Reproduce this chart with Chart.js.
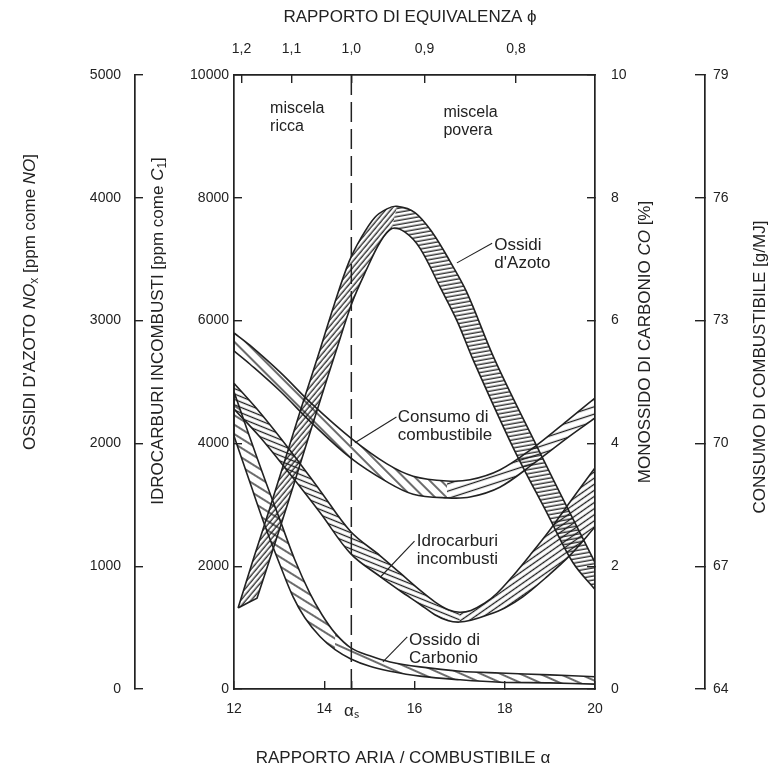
<!DOCTYPE html>
<html>
<head>
<meta charset="utf-8">
<script src="https://cdn.jsdelivr.net/npm/chart.js@4.4.1/dist/chart.umd.min.js"></script>
<style>
  html, body { margin: 0; padding: 0; background: #fff; }
  canvas { display: block; }
</style>
</head>
<body>
<canvas id="chart" width="770" height="774"></canvas>
<script>
// rapporto aria / combustibile (asse x) e rapporto di equivalenza (asse in alto)
const alphaS = 14.6;
const xTicks = [12, 14, 14.6, 16, 18, 20];
const phiTicks = [1.2, 1.1, 1.0, 0.9, 0.8];
const phiLabels = ['1,2', '1,1', '1,0', '0,9', '0,8'];

// ossidi d'azoto [ppm come NO]: bordo superiore e inferiore della fascia
const noxUpAlpha = [12.09, 12.44, 12.8, 13.15, 13.5, 13.86, 14.22, 14.55, 14.81, 15.12, 15.39, 15.61, 16.01, 16.41, 16.79, 17.16, 17.78, 18.72, 19.45, 20];
const noxUp = [660, 1070, 1480, 1890, 2300, 2710, 3130, 3480, 3670, 3840, 3910, 3930, 3880, 3710, 3480, 3230, 2680, 1970, 1430, 1030];
const noxLowAlpha = [12.51, 12.84, 13.2, 13.55, 13.91, 14.26, 14.61, 14.93, 15.24, 15.5, 15.79, 16.12, 16.57, 16.94, 17.3, 18.18, 18.94, 19.51, 20];
const noxLow = [740, 1110, 1520, 1930, 2350, 2750, 3140, 3410, 3640, 3750, 3720, 3590, 3270, 3000, 2680, 1970, 1430, 1030, 810];

// consumo di combustibile [g/MJ]
const consAlpha = [12, 12.35, 13.02, 13.75, 14.59, 15.39, 15.97, 16.72, 17.23, 17.89, 18.63, 19.38, 20];
const consUp = [72.70, 72.40, 71.74, 70.94, 70.13, 69.50, 69.20, 69.08, 69.11, 69.35, 69.89, 70.55, 71.11];
const consLow = [72.26, 71.94, 71.28, 70.47, 69.64, 69.06, 68.76, 68.67, 68.69, 68.93, 69.50, 70.13, 70.62];

// idrocarburi incombusti [ppm come C1]
const hcUpAlpha = [12, 12.58, 13.24, 13.91, 14.59, 15.24, 15.68, 16.12, 16.45, 16.75, 17.0, 17.25, 17.56, 17.83, 18.12, 18.56, 19.0, 19.45, 20];
const hcUp = [4980, 4500, 3890, 3230, 2560, 2170, 1890, 1610, 1420, 1290, 1250, 1280, 1400, 1560, 1790, 2180, 2590, 3050, 3600];
const hcLowAlpha = [12, 12.58, 13.24, 13.91, 14.59, 15.24, 15.68, 16.12, 16.45, 16.75, 17.0, 17.25, 17.6, 18.0, 18.4, 18.89, 19.45, 20];
const hcLow = [4560, 4100, 3500, 2870, 2200, 1830, 1600, 1380, 1210, 1110, 1090, 1120, 1200, 1320, 1500, 1800, 2180, 2640];

// ossido di carbonio CO [%]
const coUpAlpha = [12, 12.35, 12.69, 13.02, 13.35, 13.68, 13.95, 14.24, 14.59, 15.01, 15.46, 16.12, 17.01, 17.89, 19.0, 20];
const coUp = [4.84, 4.10, 3.40, 2.75, 2.10, 1.56, 1.21, 0.91, 0.67, 0.54, 0.44, 0.36, 0.29, 0.26, 0.23, 0.20];
const coLowAlpha = [12, 12.35, 12.69, 13.02, 13.31, 13.57, 13.91, 14.24, 14.59, 15.01, 15.46, 16.12, 17.01, 17.89, 19.0, 20];
const coLow = [4.12, 3.37, 2.65, 2.02, 1.50, 1.16, 0.85, 0.64, 0.49, 0.37, 0.29, 0.21, 0.15, 0.11, 0.10, 0.08];

const FONT = "'Liberation Sans', Arial, sans-serif";
const INK = '#222';
const tickFont = { family: FONT, size: 14, lineHeight: 1.2 };

function edge(a, v) {
  return a.map((x, i) => ({ x, y: v[i] }));
}

// fascia chiusa: bordo superiore in avanti, bordo inferiore all'indietro
// (punti d'angolo doppi per tenere gli spigoli vivi con la tensione)
function polygon(up, low) {
  const lowR = low.slice().reverse();
  return [...up, up[up.length - 1], lowR[0], ...lowR, lowR[lowR.length - 1], up[0]];
}

// tratteggio a linee parallele
function hatch(angle, gap) {
  const c = document.createElement('canvas');
  c.width = 12; c.height = gap;
  const g = c.getContext('2d');
  g.strokeStyle = '#1c1c1c';
  g.lineWidth = 1.3;
  g.beginPath(); g.moveTo(0, gap / 2); g.lineTo(12, gap / 2); g.stroke();
  const p = g.createPattern(c, 'repeat');
  p.setTransform(new DOMMatrix().rotateSelf(angle));
  return p;
}

// ogni fascia: due parti tratteggiate (prima/dopo il punto di svolta) e il contorno
const bandSpecs = [
  { up: edge(noxUpAlpha, noxUp), low: edge(noxLowAlpha, noxLow), axis: 'yNOx', cut: [11, 9], hatch: [[-50, 4.5], [-10, 4.5]] },
  { up: edge(consAlpha, consUp), low: edge(consAlpha, consLow), axis: 'yCons', cut: [7, 7], hatch: [[45, 8], [-18, 7]] },
  { up: edge(hcUpAlpha, hcUp), low: edge(hcLowAlpha, hcLow), axis: 'yHC', cut: [10, 10], hatch: [[22, 5], [-35, 5]] },
  { up: edge(coUpAlpha, coUp), low: edge(coLowAlpha, coLow), axis: 'yCO', cut: [7, 7], hatch: [[32, 8], [24, 8]] }
];

const datasets = [];
bandSpecs.forEach(b => {
  const [i, j] = b.cut;
  const parts = [
    polygon(b.up.slice(0, i + 1), b.low.slice(0, j + 1)),
    polygon(b.up.slice(i), b.low.slice(j))
  ];
  parts.forEach((data, k) => datasets.push({
    type: 'line', data, yAxisID: b.axis, xAxisID: 'x',
    fill: 'shape', backgroundColor: hatch(b.hatch[k][0], b.hatch[k][1]),
    borderWidth: 0, tension: 0.35, pointRadius: 0
  }));
});
bandSpecs.forEach(b => datasets.push({
  type: 'line', data: polygon(b.up, b.low), yAxisID: b.axis, xAxisID: 'x',
  fill: false, borderColor: INK, borderWidth: 1.6, tension: 0.35, pointRadius: 0
}));
datasets.push({
  type: 'line', yAxisID: 'yHC', xAxisID: 'x',
  data: [{ x: alphaS, y: 0 }, { x: alphaS, y: 10000 }],
  borderColor: INK, borderWidth: 1.5, borderDash: [20, 7],
  pointRadius: 0, fill: false
});

function sideAxis(min, max, step, pos, weight, size, tl, pad) {
  return {
    type: 'linear', position: pos, weight, min, max,
    ticks: { stepSize: step, font: tickFont, color: INK, padding: pad, callback: v => String(v) },
    grid: { display: true, drawOnChartArea: false, tickLength: tl, color: INK, lineWidth: 1.4 },
    border: { display: true, color: INK, width: 1.7 },
    afterFit: s => { s.width = size; }
  };
}

// testi: titoli degli assi e didascalie delle curve
function rich(ctx, parts, x, y, rot, size) {
  const fontOf = p => `${p.it ? 'italic ' : ''}${p.sub ? Math.round(size * 0.7) : size}px ${FONT}`;
  ctx.save();
  ctx.translate(x, y);
  ctx.rotate(rot);
  let w = 0;
  parts.forEach(p => { ctx.font = fontOf(p); w += ctx.measureText(p.t).width; });
  let cx = -w / 2;
  ctx.textBaseline = 'middle';
  ctx.textAlign = 'left';
  ctx.fillStyle = INK;
  parts.forEach(p => {
    ctx.font = fontOf(p);
    ctx.fillText(p.t, cx, p.sub ? size * 0.3 : 0);
    cx += ctx.measureText(p.t).width;
  });
  ctx.restore();
}

const titles = [
  { parts: [{ t: 'RAPPORTO DI EQUIVALENZA ϕ' }], x: 410, y: 17, rot: 0 },
  { parts: [{ t: 'RAPPORTO ARIA / COMBUSTIBILE α' }], x: 403, y: 758, rot: 0 },
  { parts: [{ t: "OSSIDI D'AZOTO " }, { t: 'NO', it: 1 }, { t: 'x', sub: 1 }, { t: ' [ppm come ' }, { t: 'NO', it: 1 }, { t: ']' }], x: 30, y: 302, rot: -Math.PI / 2 },
  { parts: [{ t: 'IDROCARBURI INCOMBUSTI [ppm come ' }, { t: 'C', it: 1 }, { t: '1', sub: 1 }, { t: ']' }], x: 158, y: 331, rot: -Math.PI / 2 },
  { parts: [{ t: 'MONOSSIDO DI CARBONIO ' }, { t: 'CO', it: 1 }, { t: ' [%]' }], x: 645, y: 342, rot: -Math.PI / 2 },
  { parts: [{ t: 'CONSUMO DI COMBUSTIBILE [g/MJ]' }], x: 760, y: 367, rot: -Math.PI / 2 }
];

// didascalie nel grafico (in unita' di alpha e di ppm HC)
const notes = [
  { lines: ['miscela', 'ricca'], a: 12.8, v: 9450, size: 16 },
  { lines: ['miscela', 'povera'], a: 16.64, v: 9390, size: 16 },
  { lines: ['Ossidi', "d'Azoto"], a: 17.77, v: 7230, size: 17, lead: [17.72, 7260, 16.94, 6940] },
  { lines: ['Consumo di', 'combustibile'], a: 15.63, v: 4430, size: 17, lead: [15.6, 4430, 14.68, 4010] },
  { lines: ['Idrocarburi', 'incombusti'], a: 16.05, v: 2410, size: 17, lead: [16.0, 2410, 15.24, 1820] },
  { lines: ['Ossido di', 'Carbonio'], a: 15.88, v: 800, size: 17, lead: [15.84, 850, 15.3, 440] }
];

const textPlugin = {
  id: 'texts',
  afterDraw(chart) {
    const ctx = chart.ctx;
    const xs = chart.scales.x, ys = chart.scales.yHC;
    titles.forEach(t => rich(ctx, t.parts, t.x, t.y, t.rot, 17));
    notes.forEach(n => {
      const px = xs.getPixelForValue(n.a), py = ys.getPixelForValue(n.v);
      ctx.save();
      ctx.font = `${n.size}px ${FONT}`;
      ctx.fillStyle = INK;
      ctx.textAlign = 'left';
      ctx.textBaseline = 'middle';
      n.lines.forEach((l, i) => ctx.fillText(l, px, py + i * 18));
      if (n.lead) {
        ctx.strokeStyle = INK;
        ctx.lineWidth = 1.1;
        ctx.beginPath();
        ctx.moveTo(xs.getPixelForValue(n.lead[0]), ys.getPixelForValue(n.lead[1]));
        ctx.lineTo(xs.getPixelForValue(n.lead[2]), ys.getPixelForValue(n.lead[3]));
        ctx.stroke();
      }
      ctx.restore();
    });
  }
};

const ctx = document.getElementById('chart').getContext('2d');
new Chart(ctx, {
  type: 'line',
  data: { datasets },
  options: {
    responsive: false,
    animation: false,
    events: [],
    layout: { padding: 0 },
    plugins: { legend: { display: false }, tooltip: { enabled: false } },
    scales: {
      x: {
        type: 'linear', position: 'bottom', min: 12, max: 20,
        afterBuildTicks: s => { s.ticks = xTicks.map(v => ({ value: v })); },
        ticks: {
          autoSkip: false, maxRotation: 0, color: INK, padding: 20,
          font: c => (c.tick && c.tick.value === alphaS ? { family: FONT, size: 17, lineHeight: 1.2 } : tickFont),
          callback: v => (v === alphaS ? 'αₛ' : String(v))
        },
        grid: { display: true, drawOnChartArea: false, tickLength: -8, color: INK, lineWidth: 1.4 },
        border: { display: true, color: INK, width: 1.7 },
        afterFit: s => { s.height = 85; }
      },
      xTop: {
        type: 'linear', position: 'top', min: 12, max: 20,
        afterBuildTicks: s => { s.ticks = phiTicks.map(p => ({ value: alphaS / p })); },
        ticks: { autoSkip: false, maxRotation: 0, font: tickFont, color: INK, padding: 25,
          callback: (v, i) => phiLabels[i] },
        grid: { display: true, drawOnChartArea: false, tickLength: -8, color: INK, lineWidth: 1.4 },
        border: { display: true, color: INK, width: 1.7 },
        afterFit: s => { s.height = 75; }
      },
      yHC: sideAxis(0, 10000, 2000, 'left', 0, 99, -8, 13),
      yNOx: sideAxis(0, 5000, 1000, 'left', 1, 135, -8, 22),
      yCO: sideAxis(0, 10, 2, 'right', 0, 110, -8, 24),
      yCons: sideAxis(64, 79, 3, 'right', 1, 65, -10, 18)
    }
  },
  plugins: [textPlugin]
});
</script>
</body>
</html>
